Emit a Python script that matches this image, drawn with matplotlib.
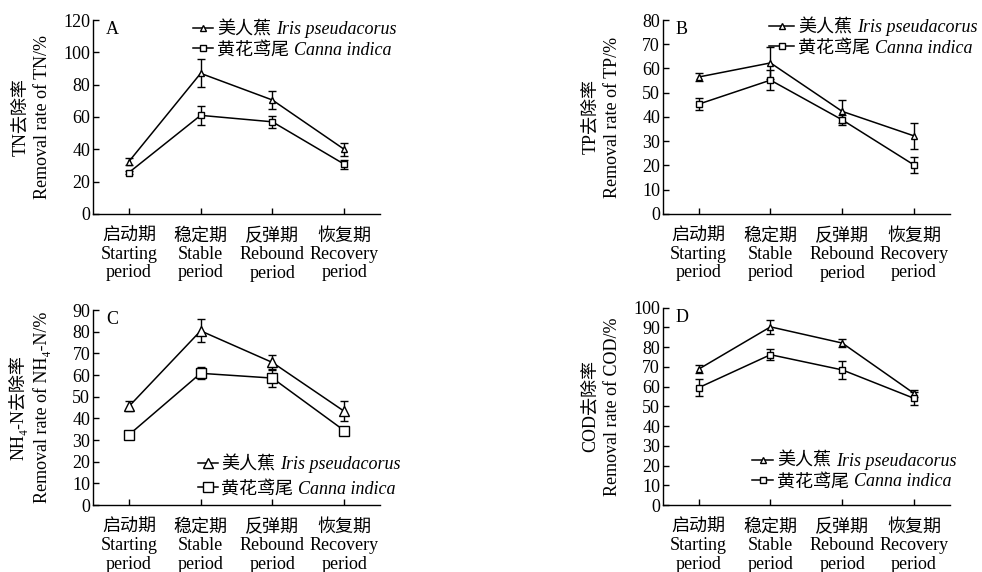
import numpy as np
import matplotlib
matplotlib.use('Agg')
import matplotlib.pyplot as plt

plt.rcParams['font.family'] = ['Liberation Serif', 'Noto Sans CJK SC', 'DejaVu Serif']
plt.rcParams['font.size'] = 13

periods = ['启动期\nStarting\nperiod', '稳定期\nStable\nperiod',
           '反弹期\nRebound\nperiod', '恢复期\nRecovery\nperiod']

cn_iris, lat_iris = '美人蕉', 'Iris pseudacorus'
cn_canna, lat_canna = '黄花鸢尾', 'Canna indica'

# TN
tn_iris = [32.4, 87.0, 70.5, 40.0]
tn_iris_err = [2.0, 8.7, 5.5, 4.0]
tn_canna = [25.6, 61.0, 57.0, 30.8]
tn_canna_err = [1.0, 6.0, 3.6, 2.7]

# TP
tp_iris = [56.5, 62.3, 42.3, 32.2]
tp_iris_err = [1.8, 6.5, 4.6, 5.3]
tp_canna = [45.3, 55.2, 38.8, 20.2]
tp_canna_err = [2.4, 4.0, 2.0, 3.4]

# NH4-N
nh_iris = [45.5, 80.4, 65.8, 43.3]
nh_iris_err = [2.3, 5.3, 3.4, 4.6]
nh_canna = [32.4, 60.8, 58.6, 34.4]
nh_canna_err = [1.0, 2.8, 4.3, 1.0]

# COD
cod_iris = [68.9, 90.3, 82.1, 56.6]
cod_iris_err = [2.0, 3.7, 2.0, 1.7]
cod_canna = [59.5, 76.2, 68.5, 54.1]
cod_canna_err = [4.4, 2.9, 4.4, 3.4]

panels = [
    dict(tag='A', iris=tn_iris, ie=tn_iris_err, canna=tn_canna, ce=tn_canna_err,
         ylim=120, step=20, ylabel='TN去除率\nRemoval rate of TN/%',
         pos=[0.0947, 0.626, 0.2923, 0.339], leg=(0.35, 0.995), ms=5,
         hl=1.1, ls=0.2),
    dict(tag='B', iris=tp_iris, ie=tp_iris_err, canna=tp_canna, ce=tp_canna_err,
         ylim=80, step=10, ylabel='TP去除率\nRemoval rate of TP/%',
         pos=[0.675, 0.626, 0.2923, 0.339], leg=(0.37, 1.005), ms=5,
         hl=1.4, ls=0.2),
    dict(tag='C', iris=nh_iris, ie=nh_iris_err, canna=nh_canna, ce=nh_canna_err,
         ylim=90, step=10, ylabel='NH₄-N去除率\nRemoval rate of NH₄-N/%',
         pos=[0.0947, 0.117, 0.2923, 0.341], leg=(0.365, 0.25), ms=7,
         hl=1.1, ls=0.4),
    dict(tag='D', iris=cod_iris, ie=cod_iris_err, canna=cod_canna, ce=cod_canna_err,
         ylim=100, step=10, ylabel='COD去除率\nRemoval rate of COD/%',
         pos=[0.675, 0.117, 0.2923, 0.345], leg=(0.31, 0.265), ms=5,
         hl=1.2, ls=0.2),
]

fig = plt.figure(figsize=(9.82, 5.72), dpi=100)
x = np.arange(1, 5)
legends = []

for p in panels:
    ax = fig.add_axes(p['pos'])
    h1 = ax.errorbar(x, p['iris'], yerr=p['ie'], color='black', lw=1.1,
                     marker='^', ms=p['ms'], mfc='white', mec='black', mew=1,
                     capsize=3, elinewidth=1, capthick=1)
    h2 = ax.errorbar(x, p['canna'], yerr=p['ce'], color='black', lw=1.1,
                     marker='s', ms=p['ms'], mfc='white', mec='black', mew=1,
                     capsize=3, elinewidth=1, capthick=1)
    ax.set_xlim(0.5, 4.5)
    ax.set_ylim(0, p['ylim'])
    ax.set_yticks(np.arange(0, p['ylim'] + 1, p['step']))
    ax.set_xticks(x)
    ax.set_xticklabels(periods, linespacing=1.1)
    ax.tick_params(direction='in', length=4, width=1)
    ax.tick_params(axis='x', pad=10)
    ax.tick_params(axis='y', pad=2)
    for s in ['top', 'right']:
        ax.spines[s].set_visible(False)
    for s in ['left', 'bottom']:
        ax.spines[s].set_linewidth(1)
    ax.set_ylabel(p['ylabel'], linespacing=1.4)
    ax.yaxis.set_label_coords(-0.146, 0.5)
    ax.text(0.045, 0.995, p['tag'], transform=ax.transAxes, ha='left', va='top')

    leg = ax.legend([h1[0], h2[0]], [cn_iris, cn_canna], loc='upper left',
                    bbox_to_anchor=p['leg'], frameon=False, borderpad=0,
                    handlelength=p['hl'], handletextpad=0.2,
                    labelspacing=p['ls'], borderaxespad=0)
    legends.append(leg)

# latin names in italics after the chinese names
fig.canvas.draw()
inv = fig.transFigure.inverted()
for leg in legends:
    for t, name in zip(leg.get_texts(), [lat_iris, lat_canna]):
        bb = t.get_window_extent()
        fx, fy = inv.transform((bb.x1 + 5, bb.y0))
        fig.text(fx, fy, name, ha='left', va='bottom', style='italic')

fig.savefig('out.png', dpi=100)
